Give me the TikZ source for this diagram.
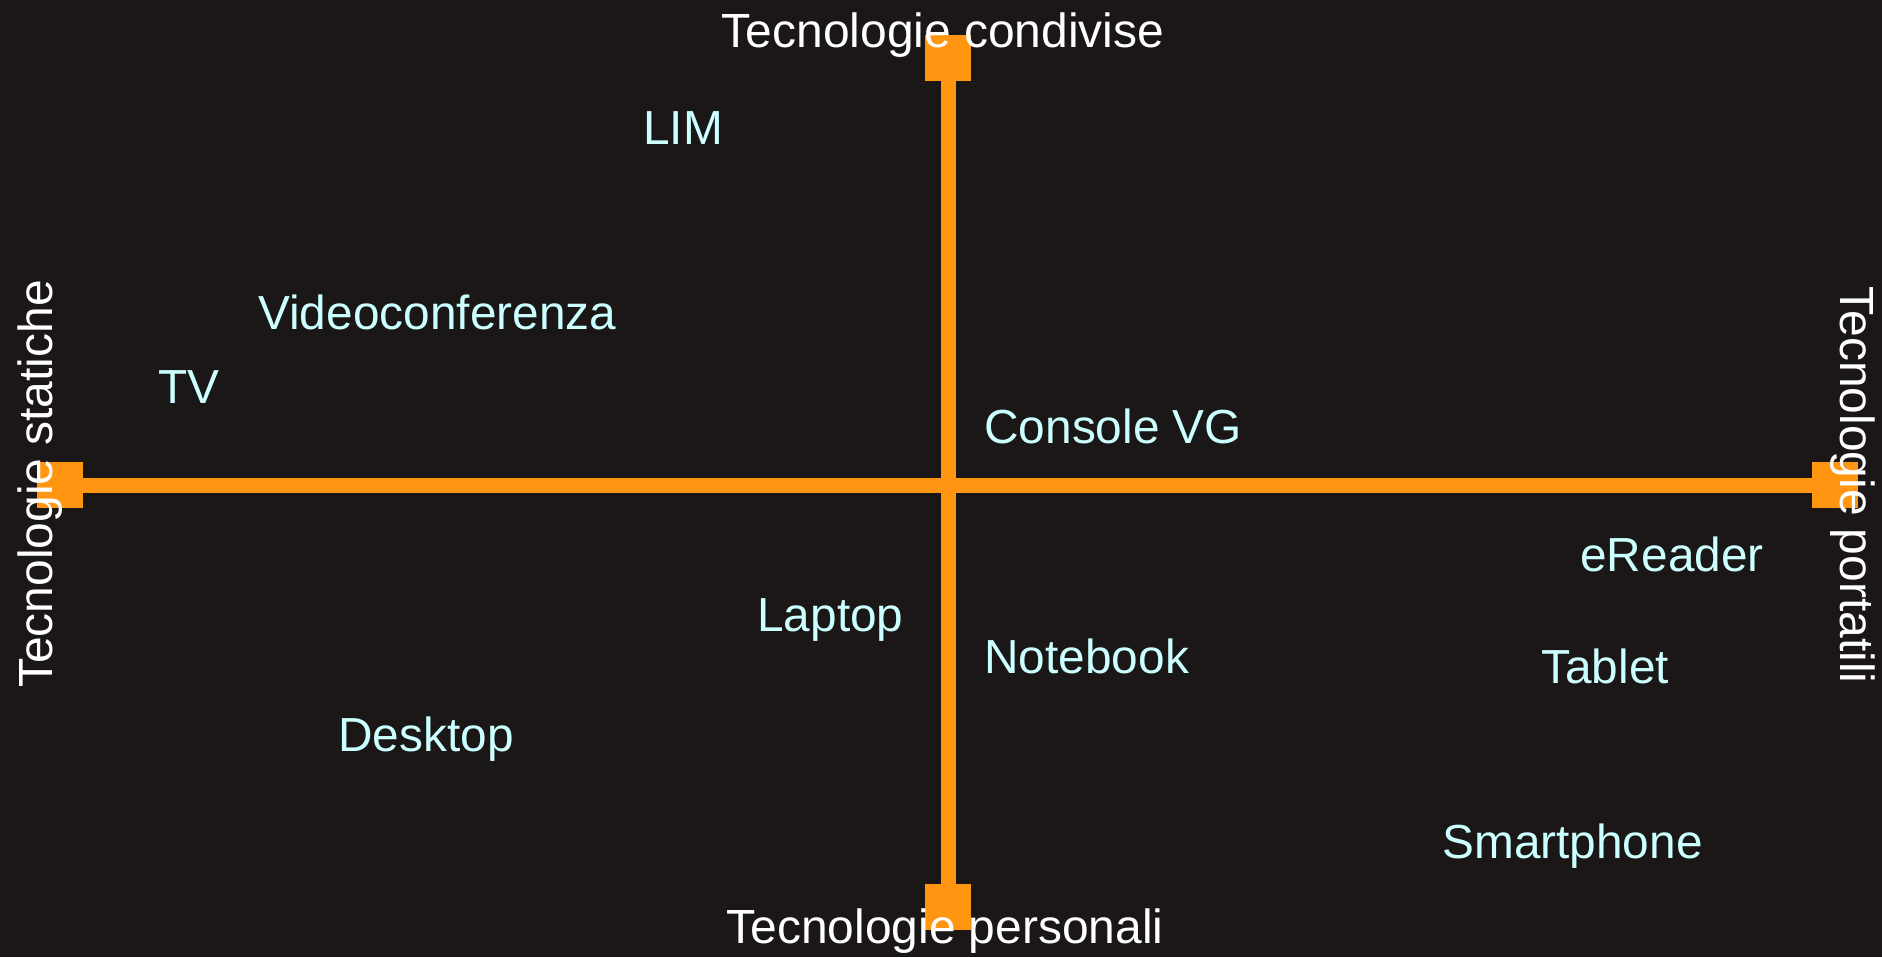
\documentclass[tikz,border=0pt]{standalone}
\usepackage{fontspec}
\setmainfont{Liberation Sans}
\usetikzlibrary{
  positioning,
  calc}
\definecolor{bgcolor}{RGB}{26,23,22}
\definecolor{axiscolor}{RGB}{255,149,16}
\definecolor{itemcolor}{RGB}{204,255,255}
\tikzset{
  %% axisend : square at the end of an axis
  axisend/.style={
    rectangle,
    fill=axiscolor,
    minimum size=0.92cm,
    inner sep=0pt
  },
  %% axis : line between two axis ends
  axis/.style={
    axiscolor,
    line width=0.3cm
  },
  %% axislabel : name written at an axis end
  axislabel/.style={
    text=white,
    inner sep=0pt,
    anchor=base,
    font=\fontsize{27.3pt}{32pt}\selectfont
  },
  %% tech : a technology placed in the plane
  tech/.style={
    text=itemcolor,
    inner sep=0pt,
    anchor=base west,
    font=\fontsize{27.2pt}{32pt}\selectfont
  }
}

\begin{document}
\begin{tikzpicture}
  [x=0.02cm,
  y=-0.02cm]

  %% background
  \fill [bgcolor] (0, 0) rectangle (1882, 957);

  %% axis ends
  \node (top) [axisend] at (948, 58){};
  \node (bottom) [axisend] at (948, 907){};
  \node (left) [axisend] at (60, 485){};
  \node (right) [axisend] at (1835, 485){};

  %% axes
  \draw [axis] (top) -- (bottom);
  \draw [axis] (left) -- (right);

  %% axis labels
  \node (shared) [axislabel] at (943, 47){Tecnologie condivise};
  \node (personal) [axislabel] at (945, 943){Tecnologie personali};
  \node (static) [axislabel, rotate=90] at (52, 484){Tecnologie statiche};
  \node (portable) [axislabel, rotate=-90] at (1840, 485){Tecnologie portatili};

  %% technologies
  \node (lim) [tech] at (643, 144){LIM};
  \node (video) [tech] at (258, 329){Videoconferenza};
  \node (tv) [tech] at (158, 403){TV};
  \node (console) [tech] at (984, 443){Console VG};
  \node (ereader) [tech] at (1580, 571){eReader};
  \node (laptop) [tech] at (757, 631){Laptop};
  \node (notebook) [tech] at (984, 673){Notebook};
  \node (tablet) [tech] at (1541, 683){Tablet};
  \node (desktop) [tech] at (338, 751){Desktop};
  \node (smartphone) [tech] at (1442, 858){Smartphone};

\end{tikzpicture}
\end{document}
